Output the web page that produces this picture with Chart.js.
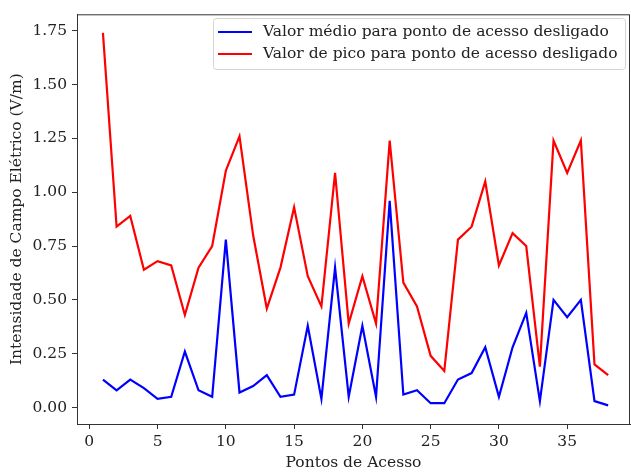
<!DOCTYPE html>
<html>
<head>
<meta charset="utf-8">
<script src="https://cdn.jsdelivr.net/npm/chart.js@4"></script>
<style>
  html, body { margin: 0; padding: 0; background: #fff; }
  #wrap { width: 631px; height: 472px; }
</style>
</head>
<body>
<div id="wrap"><canvas id="c" width="631" height="472"></canvas></div>
<script>
const pontos = Array.from({length: 38}, (_, i) => i + 1);
const valorMedio = [0.13, 0.08, 0.13, 0.09, 0.04, 0.05, 0.26, 0.08, 0.05, 0.78,
                    0.07, 0.10, 0.15, 0.05, 0.06, 0.38, 0.04, 0.65, 0.05, 0.38,
                    0.05, 0.96, 0.06, 0.08, 0.02, 0.02, 0.13, 0.16, 0.28, 0.05,
                    0.28, 0.44, 0.03, 0.50, 0.42, 0.50, 0.03, 0.01];
const valorPico = [1.74, 0.84, 0.89, 0.64, 0.68, 0.66, 0.43, 0.65, 0.75, 1.10,
                   1.26, 0.80, 0.46, 0.65, 0.93, 0.61, 0.47, 1.09, 0.39, 0.61,
                   0.39, 1.24, 0.58, 0.47, 0.24, 0.17, 0.78, 0.84, 1.05, 0.66,
                   0.81, 0.75, 0.19, 1.24, 1.09, 1.24, 0.20, 0.15];
const xTicks = [0, 5, 10, 15, 20, 25, 30, 35];
const yTicks = [0.00, 0.25, 0.50, 0.75, 1.00, 1.25, 1.50, 1.75];
const labels = {
  medio: 'Valor médio para ponto de acesso desligado',
  pico: 'Valor de pico para ponto de acesso desligado',
  x: 'Pontos de Acesso',
  y: 'Intensidade de Campo Elétrico (V/m)'
};

const FONT = "'DejaVu Serif', serif";
const FS = 15.5;

const framePlugin = {
  id: 'frame',
  afterDraw(chart) {
    const {ctx, chartArea: a} = chart;
    ctx.save();
    ctx.strokeStyle = '#333';
    ctx.lineWidth = 1;
    ctx.strokeRect(a.left + 0.5, a.top + 0.5, a.right - a.left - 1, a.bottom - a.top);
    // legend
    const bx = 213.5, by = 18.5, bw = 412, bh = 51;
    ctx.fillStyle = 'rgba(255,255,255,0.85)';
    ctx.strokeStyle = '#d4d4d4';
    ctx.lineWidth = 1;
    const r = 3;
    ctx.beginPath();
    ctx.moveTo(bx + r, by);
    ctx.lineTo(bx + bw - r, by);
    ctx.arcTo(bx + bw, by, bx + bw, by + r, r);
    ctx.lineTo(bx + bw, by + bh - r);
    ctx.arcTo(bx + bw, by + bh, bx + bw - r, by + bh, r);
    ctx.lineTo(bx + r, by + bh);
    ctx.arcTo(bx, by + bh, bx, by + bh - r, r);
    ctx.lineTo(bx, by + r);
    ctx.arcTo(bx, by, bx + r, by, r);
    ctx.closePath();
    ctx.fill();
    ctx.stroke();
    const items = chart.data.datasets;
    ctx.font = FS + 'px ' + FONT;
    ctx.textBaseline = 'middle';
    ctx.textAlign = 'left';
    items.forEach((ds, i) => {
      const yy = 32 + i * 22;
      ctx.strokeStyle = ds.borderColor;
      ctx.lineWidth = 2.2;
      ctx.beginPath();
      ctx.moveTo(218, yy);
      ctx.lineTo(252, yy);
      ctx.stroke();
      ctx.fillStyle = '#222';
      ctx.fillText(ds.label, 263, yy);
    });
    ctx.restore();
  }
};

new Chart(document.getElementById('c'), {
  type: 'line',
  data: {
    datasets: [
      { label: labels.medio, data: pontos.map((p, i) => ({x: p, y: valorMedio[i]})),
        borderColor: '#0000ff', borderWidth: 2.2, pointRadius: 0, tension: 0, fill: false },
      { label: labels.pico, data: pontos.map((p, i) => ({x: p, y: valorPico[i]})),
        borderColor: '#ff0000', borderWidth: 2.2, pointRadius: 0, tension: 0, fill: false }
    ]
  },
  options: {
    responsive: false,
    animation: false,
    layout: { padding: { left: 0, right: 1, top: 10, bottom: 0 } },
    plugins: { legend: { display: false }, tooltip: { enabled: false } },
    scales: {
      x: {
        type: 'linear',
        min: -0.9, max: 39.6,
        afterBuildTicks: s => { s.ticks = xTicks.map(v => ({value: v})); },
        afterFit: s => { s.height = 48; },
        grid: { drawOnChartArea: false, drawTicks: true, tickLength: 5, color: '#333' },
        border: { display: true, color: '#333', width: 1 },
        ticks: { color: '#222', font: { family: FONT, size: FS }, padding: 4, maxRotation: 0,
                 callback: v => String(v) },
        title: { display: true, text: labels.x, color: '#222', font: { family: FONT, size: FS },
                 padding: { top: 0, bottom: 0 } }
      },
      y: {
        type: 'linear',
        min: -0.0765, max: 1.8265,
        afterBuildTicks: s => { s.ticks = yTicks.map(v => ({value: v})); },
        afterFit: s => { s.width = 77; },
        grid: { drawOnChartArea: false, drawTicks: true, tickLength: 5, color: '#333' },
        border: { display: true, color: '#333', width: 1 },
        ticks: { color: '#222', font: { family: FONT, size: FS }, padding: 5,
                 callback: v => v.toFixed(2) },
        title: { display: true, text: labels.y, color: '#222', font: { family: FONT, size: FS },
                 padding: { top: 8, bottom: 0 } }
      }
    }
  },
  plugins: [framePlugin]
});
</script>
</body>
</html>
